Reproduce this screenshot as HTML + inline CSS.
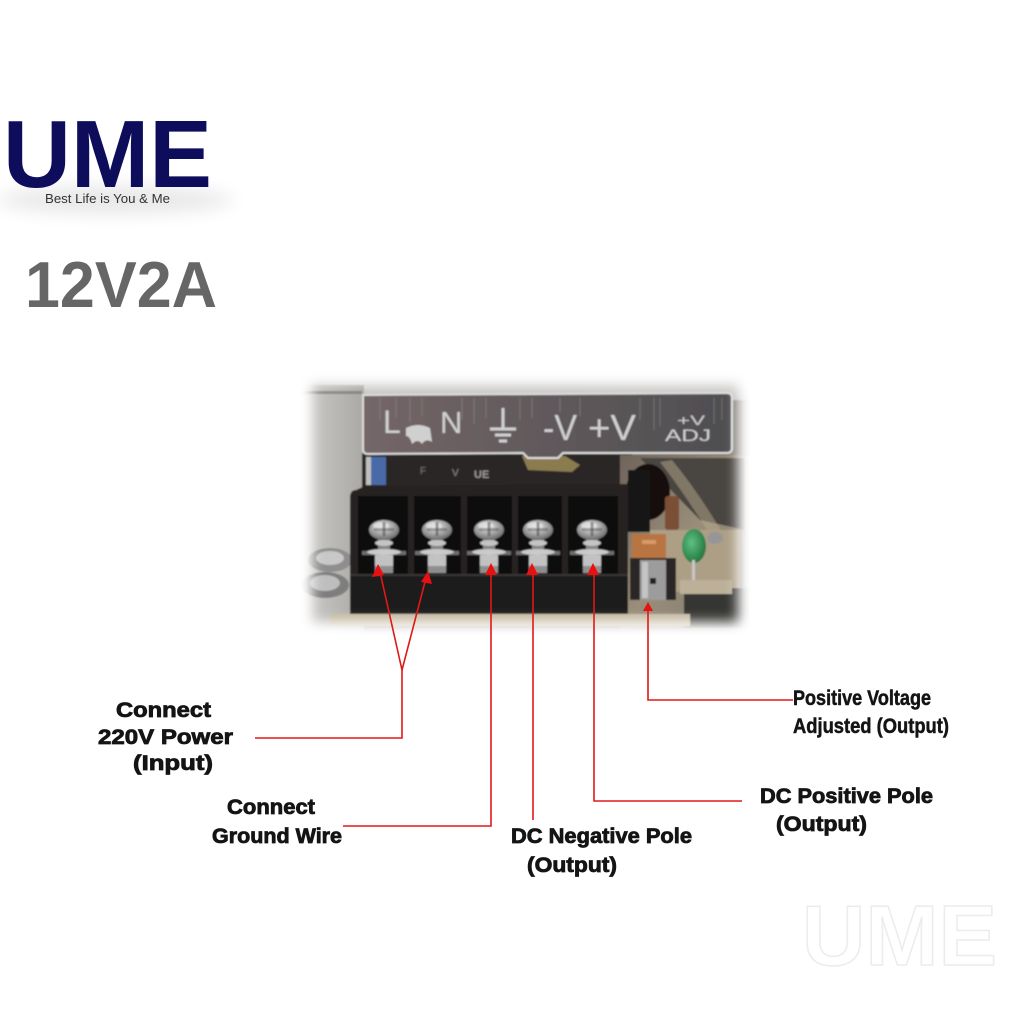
<!DOCTYPE html>
<html>
<head>
<meta charset="utf-8">
<style>
html,body{margin:0;padding:0;background:#fff;}
svg{display:block;}
</style>
</head>
<body>
<svg width="1024" height="1024" viewBox="0 0 1024 1024" xmlns="http://www.w3.org/2000/svg">
<defs>
  <filter id="blur6" x="-20%" y="-20%" width="140%" height="140%"><feGaussianBlur stdDeviation="6"/></filter>
  <filter id="blur8" x="-30%" y="-50%" width="160%" height="200%"><feGaussianBlur stdDeviation="9"/></filter>
  <filter id="soft"><feGaussianBlur stdDeviation="0.7"/></filter>
  <mask id="vig">
    <rect x="0" y="0" width="1024" height="1024" fill="#000"/>
    <rect x="312" y="382" width="426" height="240" fill="#fff" filter="url(#blur6)"/>
  </mask>
  <linearGradient id="stripG" x1="0" y1="0" x2="1" y2="0">
    <stop offset="0" stop-color="#746668"/>
    <stop offset="0.45" stop-color="#625a5c"/>
    <stop offset="1" stop-color="#4e4e50"/>
  </linearGradient>
  <linearGradient id="topG" x1="0" y1="0" x2="0" y2="1">
    <stop offset="0" stop-color="#f4f4f4"/>
    <stop offset="1" stop-color="#bdbbb8"/>
  </linearGradient>
  <linearGradient id="leftG" x1="0" y1="0" x2="1" y2="0">
    <stop offset="0" stop-color="#cfcdca"/>
    <stop offset="1" stop-color="#aaa8a4"/>
  </linearGradient>
  <linearGradient id="pcbG" x1="0" y1="0" x2="1" y2="1">
    <stop offset="0" stop-color="#6e645a"/>
    <stop offset="0.5" stop-color="#9a8e7a"/>
    <stop offset="1" stop-color="#7a746c"/>
  </linearGradient>
  <radialGradient id="screwG" cx="0.45" cy="0.35" r="0.7">
    <stop offset="0" stop-color="#eeeeee"/>
    <stop offset="0.5" stop-color="#a8a8a8"/>
    <stop offset="1" stop-color="#5e5e5e"/>
  </radialGradient>
  <radialGradient id="greenG" cx="0.4" cy="0.4" r="0.7">
    <stop offset="0" stop-color="#5fc080"/>
    <stop offset="1" stop-color="#1c6e3a"/>
  </radialGradient>
  <g id="screw">
    <rect x="-22" y="551" width="44" height="4" fill="#6c6c6c"/>
    <rect x="-9" y="555" width="18" height="18" fill="#c2c2c2"/>
    <rect x="-9" y="566" width="18" height="7" fill="#8e8e8e"/>
    <rect x="-6" y="536" width="12" height="16" fill="#858585"/>
    <ellipse cx="0" cy="552" rx="17" ry="3" fill="#cacaca"/>
    <ellipse cx="0" cy="530" rx="15" ry="10" fill="url(#screwG)"/>
    <ellipse cx="-3" cy="526" rx="8" ry="4" fill="#e6e6e6" opacity="0.7"/>
    <rect x="-1.5" y="522" width="3" height="14" fill="#444" opacity="0.5"/>
    <rect x="-10" y="528" width="20" height="3" fill="#444" opacity="0.4"/>
    <ellipse cx="0" cy="543" rx="9" ry="3" fill="#c4c4c4"/>
  </g>
</defs>

<rect x="0" y="0" width="1024" height="1024" fill="#fff"/>

<!-- Logo -->
<ellipse cx="115" cy="200" rx="118" ry="14" fill="#000" opacity="0.09" filter="url(#blur8)"/>
<text x="3" y="187" font-family="Liberation Sans, Arial, sans-serif" font-weight="bold" font-size="96" fill="#0d0d5c" textLength="209" lengthAdjust="spacingAndGlyphs">UME</text>
<text x="45" y="203" font-family="Liberation Sans, Arial, sans-serif" font-size="12.5" fill="#333" textLength="125" lengthAdjust="spacingAndGlyphs">Best Life is You &amp; Me</text>

<text x="25" y="307" font-family="Liberation Sans, Arial, sans-serif" font-weight="bold" font-size="65" fill="#666" textLength="192" lengthAdjust="spacingAndGlyphs">12V2A</text>

<!-- Photo -->
<g mask="url(#vig)">
 <g filter="url(#soft)">
  <rect x="300" y="370" width="450" height="265" fill="#7e7872"/>
  <rect x="300" y="370" width="450" height="30" fill="url(#topG)"/>
  <!-- left metal panel -->
  <rect x="300" y="385" width="64" height="250" fill="url(#leftG)"/>
  <rect x="300" y="391" width="62" height="3" fill="#6a6866" opacity="0.6"/>
  <ellipse cx="330" cy="560" rx="22" ry="12" fill="#8e8e8e"/>
  <ellipse cx="330" cy="558" rx="14" ry="7" fill="#c8c8c8"/>
  <ellipse cx="325" cy="585" rx="24" ry="13" fill="#7e7e7e"/>
  <ellipse cx="325" cy="583" rx="15" ry="8" fill="#bebebe"/>
  <!-- dark interior under strip -->
  <rect x="362" y="453" width="270" height="40" fill="#2a2626"/>
  <rect x="366" y="457" width="20" height="28" fill="#4a6aa6"/>
  <rect x="366" y="457" width="5" height="28" fill="#c0c0c0"/>
  <text x="420" y="474" font-family="Liberation Sans, sans-serif" font-size="10" fill="#777">F</text>
  <text x="452" y="476" font-family="Liberation Sans, sans-serif" font-size="10" fill="#888">V</text>
  <text x="474" y="478" font-family="Liberation Sans, sans-serif" font-weight="bold" font-size="11" fill="#999">UE</text>
  <path d="M522,456 L565,456 L580,465 L572,472 L528,470 Z" fill="#8a7c50"/>
  <!-- right pcb area -->
  <rect x="620" y="455" width="130" height="175" fill="url(#pcbG)"/>
  <path d="M640,458 L745,458 L745,530 L700,520 Z" fill="#4a4440"/>
  <path d="M660,462 Q690,500 725,560 L738,560 Q705,500 672,460 Z" fill="#b8aa8c" opacity="0.5"/>
  <ellipse cx="648" cy="492" rx="22" ry="28" fill="#151111"/>
  <rect x="628" y="470" width="22" height="62" fill="#181414"/>
  <rect x="665" y="496" width="14" height="34" rx="3" fill="#7a5034"/>
  <rect x="650" y="530" width="90" height="62" fill="#ad9f86"/>
  <rect x="632" y="534" width="34" height="26" fill="#b87442"/>
  <rect x="642" y="540" width="14" height="4" fill="#d89a6a"/>
  <rect x="630" y="558" width="46" height="42" fill="#2a2828"/>
  <rect x="640" y="560" width="26" height="40" fill="#9c9c9c"/>
  <rect x="642" y="562" width="6" height="36" fill="#c4c4c4"/>
  <rect x="650" y="578" width="6" height="6" fill="#222"/>
  <ellipse cx="694" cy="546" rx="12" ry="17" fill="url(#greenG)"/>
  <rect x="692" y="560" width="3" height="20" fill="#c8c8c8"/>
  <ellipse cx="715" cy="538" rx="8" ry="6" fill="#969696"/>
  <rect x="684" y="588" width="66" height="40" fill="#363432"/>
  <rect x="680" y="580" width="52" height="14" fill="#bcb098"/>
  <!-- label strip -->
  <path d="M363,395 L727,393 Q732,393 732,398 L732,448 Q732,453 727,453 L563,453 L558,458 L528,458 L523,453 L368,454 Q363,454 363,449 Z" fill="url(#stripG)" stroke="#dcdcdc" stroke-width="2"/>
  <g stroke="#a0a0a0" stroke-width="1" opacity="0.4">
    <line x1="380" y1="398" x2="380" y2="420"/><line x1="396" y1="398" x2="396" y2="418"/>
    <line x1="410" y1="398" x2="410" y2="422"/><line x1="422" y1="398" x2="422" y2="416"/>
    <line x1="462" y1="398" x2="462" y2="420"/><line x1="474" y1="398" x2="474" y2="424"/>
    <line x1="486" y1="398" x2="486" y2="418"/><line x1="520" y1="398" x2="520" y2="420"/>
    <line x1="532" y1="398" x2="532" y2="418"/><line x1="560" y1="398" x2="560" y2="412"/>
    <line x1="580" y1="398" x2="580" y2="416"/><line x1="640" y1="398" x2="640" y2="420"/>
    <line x1="654" y1="398" x2="654" y2="430"/><line x1="660" y1="398" x2="660" y2="426"/>
    <line x1="714" y1="398" x2="714" y2="424"/><line x1="722" y1="398" x2="722" y2="420"/>
  </g>
  <g font-family="Liberation Sans, Arial, sans-serif" fill="#d0d0d0">
    <text x="383" y="433" font-size="32">L</text>
    <path d="M406,428 Q418,422 430,428 L432,442 Q426,438 422,444 Q418,438 412,444 Q410,436 406,436 Z" fill="#d0d0d0"/>
    <text x="440" y="433" font-size="31">N</text>
    <text x="543" y="440" font-size="36" textLength="34" lengthAdjust="spacingAndGlyphs">-V</text>
    <text x="588" y="440" font-size="36" textLength="48" lengthAdjust="spacingAndGlyphs">+V</text>
    <text x="677" y="425" font-size="14" textLength="28" lengthAdjust="spacingAndGlyphs">+V</text>
    <text x="665" y="441" font-size="17" textLength="46" lengthAdjust="spacingAndGlyphs">ADJ</text>
  </g>
  <g stroke="#d0d0d0" stroke-width="3">
    <line x1="503" y1="408" x2="503" y2="428"/>
    <line x1="490" y1="429" x2="516" y2="429"/>
    <line x1="495" y1="435" x2="511" y2="435"/>
    <line x1="499" y1="441" x2="507" y2="441"/>
  </g>
  <!-- terminal block -->
  <path d="M356,490 Q350,490 350,498 L350,617 L628,617 L628,484 L365,486 Z" fill="#262222"/>
  <rect x="358" y="496" width="50" height="78" fill="#110f0f"/>
  <rect x="414" y="496" width="47" height="78" fill="#110f0f"/>
  <rect x="467" y="496" width="45" height="78" fill="#110f0f"/>
  <rect x="518" y="496" width="44" height="78" fill="#110f0f"/>
  <rect x="568" y="496" width="50" height="78" fill="#110f0f"/>
  <rect x="350" y="574" width="278" height="43" fill="#1d1a1a"/>
  <rect x="350" y="574" width="278" height="2" fill="#3a3636"/>
  <use href="#screw" x="384" y="0"/>
  <use href="#screw" x="437" y="0"/>
  <use href="#screw" x="489" y="0"/>
  <use href="#screw" x="538" y="0"/>
  <use href="#screw" x="592" y="0"/>
  <rect x="330" y="614" width="360" height="12" fill="#c4b89f"/>
 </g>
</g>

<!-- Red connectors -->
<g stroke="#e01818" stroke-width="1.6" fill="none">
  <line x1="380" y1="572" x2="402" y2="670"/>
  <line x1="426" y1="578" x2="402" y2="670"/>
  <polyline points="402,670 402,738 255,738"/>
  <polyline points="491,570 491,826 343,826"/>
  <polyline points="533,570 533,820"/>
  <polyline points="594,570 594,801 742,801"/>
  <polyline points="648,608 648,700 793,700"/>
</g>
<g fill="#e81010">
  <polygon points="378,564 372,577 384,575"/>
  <polygon points="428,571 421,582 432,584"/>
  <polygon points="491,563 485,575 497,575"/>
  <polygon points="532,563 526,575 538,575"/>
  <polygon points="593,563 587,575 599,575"/>
  <polygon points="648,602 643,611 653,611"/>
</g>

<!-- Labels -->
<g font-family="Liberation Sans, Arial, sans-serif" font-weight="bold" font-size="21" fill="#141414" stroke="#141414" stroke-width="0.8">
  <text x="116" y="717" textLength="95" lengthAdjust="spacingAndGlyphs">Connect</text>
  <text x="98" y="744" textLength="135" lengthAdjust="spacingAndGlyphs">220V Power</text>
  <text x="133" y="770" textLength="80" lengthAdjust="spacingAndGlyphs">(Input)</text>
  <text x="227" y="814" textLength="88" lengthAdjust="spacingAndGlyphs">Connect</text>
  <text x="212" y="843" textLength="130" lengthAdjust="spacingAndGlyphs">Ground Wire</text>
  <text x="511" y="843" textLength="181" lengthAdjust="spacingAndGlyphs">DC Negative Pole</text>
  <text x="527" y="872" textLength="90" lengthAdjust="spacingAndGlyphs">(Output)</text>
  <text x="760" y="803" textLength="173" lengthAdjust="spacingAndGlyphs">DC Positive Pole</text>
  <text x="776" y="831" textLength="91" lengthAdjust="spacingAndGlyphs">(Output)</text>
  <text x="793" y="705" textLength="138" lengthAdjust="spacingAndGlyphs" stroke-width="0.5">Positive Voltage</text>
  <text x="793" y="733" textLength="156" lengthAdjust="spacingAndGlyphs" stroke-width="0.5">Adjusted (Output)</text>
</g>

<!-- watermark -->
<text x="802" y="965" font-family="Liberation Sans, Arial, sans-serif" font-weight="bold" font-size="85" fill="#fff" stroke="#ececec" stroke-width="1.5" textLength="195" lengthAdjust="spacingAndGlyphs">UME</text>
</svg>
</body>
</html>
